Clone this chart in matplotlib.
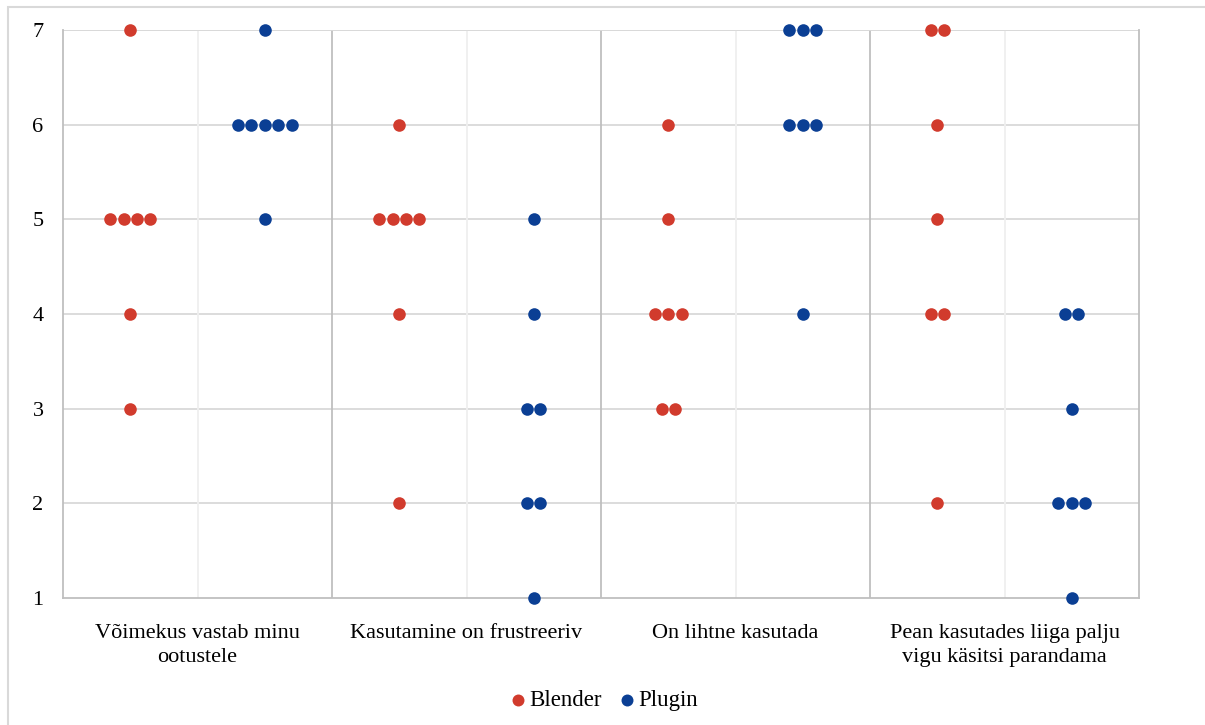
import matplotlib.pyplot as plt
from matplotlib.patches import Rectangle
import numpy as np

plt.rcParams['font.family'] = ['Liberation Serif', 'DejaVu Serif']

categories = ['Võimekus vastab minu\nootustele', 'Kasutamine on frustreeriv',
              'On lihtne kasutada', 'Pean kasutades liiga palju\nvigu käsitsi parandama']
series = ['Blender', 'Plugin']
colors = ['#D13B2D', '#0B3F94']

# answers (1-7 scale) for each statement
blender = [
    [7, 5, 5, 5, 5, 4, 3],
    [6, 5, 5, 5, 5, 4, 2],
    [6, 5, 4, 4, 4, 3, 3],
    [7, 7, 6, 5, 4, 4, 2],
]
plugin = [
    [7, 6, 6, 6, 6, 6, 5],
    [5, 4, 3, 3, 2, 2, 1],
    [7, 7, 7, 6, 6, 6, 4],
    [4, 4, 3, 2, 2, 2, 1],
]

fig = plt.figure(figsize=(12.05, 7.25), dpi=100)
fig.patches.append(Rectangle((8 / 1205, -0.1), 1.2, 1 - 7 / 725 + 0.1, transform=fig.transFigure,
                             fill=False, edgecolor='#d9d9d9', linewidth=1.5))
ax = fig.add_axes([63 / 1205, 1 - 598 / 725, 1076 / 1205, 568 / 725])

step = 0.05
for s, data in enumerate([blender, plugin]):
    for c, vals in enumerate(data):
        center = c + 0.25 + 0.5 * s
        for v in sorted(set(vals)):
            n = vals.count(v)
            xs = center + (np.arange(n) - (n - 1) / 2) * step
            ax.scatter(xs, [v] * n, s=82, color=colors[s], zorder=3, clip_on=False,
                       linewidths=0, label=series[s] if (c == 0 and v == vals[0]) else None)

ax.set_xlim(0, 4)
ax.set_ylim(1, 7)
ax.set_yticks(range(1, 8))
ax.tick_params(axis='y', length=0, pad=14, labelsize=16)
ax.set_xticks([0.5, 1.5, 2.5, 3.5])
ax.set_xticklabels(categories, fontsize=16, linespacing=1.3)
ax.tick_params(axis='x', length=0, pad=19)

for y in range(2, 8):
    ax.axhline(y, color='#d9d9d9', linewidth=1.3, zorder=1)
for x in [0.5, 1.5, 2.5, 3.5]:
    ax.axvline(x, color='#efefef', linewidth=1.3, zorder=1)
for x in [1, 2, 3]:
    ax.axvline(x, color='#bfbfbf', linewidth=1.3, zorder=1)
for side in ['left', 'right', 'bottom']:
    ax.spines[side].set_color('#bfbfbf')
    ax.spines[side].set_linewidth(1.3)
ax.spines['top'].set_visible(False)
ax.axhline(7, color='#d9d9d9', linewidth=1.3, zorder=1)

fig.legend(loc='center', bbox_to_anchor=(0.5, 1 - 700 / 725), ncol=2, frameon=False,
           fontsize=16.5, handletextpad=0.0, columnspacing=0.6, handlelength=1.0,
           markerscale=0.95)

fig.savefig('out.png', dpi=100)
